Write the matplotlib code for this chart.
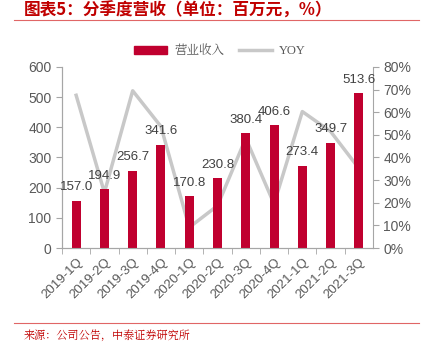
import numpy as np
import matplotlib
matplotlib.use('Agg')
import matplotlib.pyplot as plt
from matplotlib.lines import Line2D
from matplotlib.patches import Patch

plt.rcParams['font.family'] = ['Liberation Sans', 'Noto Sans CJK SC', 'DejaVu Sans']

# data
quarters = ['2019-1Q', '2019-2Q', '2019-3Q', '2019-4Q', '2020-1Q', '2020-2Q',
            '2020-3Q', '2020-4Q', '2021-1Q', '2021-2Q', '2021-3Q']
revenue = [157.0, 194.9, 256.7, 341.6, 170.8, 230.8, 380.4, 406.6, 273.4, 349.7, 513.6]
yoy = [67.5, 24.5, 69.5, 53.7, 9.1, 18.7, 48.5, 19.5, 60.3, 51.5, 35.2]

bar_color = '#C0002F'
line_color = '#C8C8C8'
axis_gray = '#A6A6A6'
text_gray = '#595959'

fig = plt.figure(figsize=(4.26, 3.44), dpi=100)
ax = fig.add_axes([62 / 426, 1 - 248 / 344, (373 - 62) / 426, (248 - 67) / 344])
ax2 = ax.twinx()

x = np.arange(len(quarters))
ax.bar(x, revenue, width=0.32, color=bar_color, zorder=2)
for xi, v in zip(x, revenue):
    ax.text(xi, v + 25, f'{v:.1f}', ha='center', va='bottom', fontsize=9.5, color='#404040', zorder=5)

ax2.plot(x, yoy, color=line_color, lw=2.5, zorder=3)
ax.set_zorder(ax2.get_zorder() + 1)
ax.patch.set_visible(False)

ax.set_xlim(-0.5, len(quarters) - 0.5)
ax.set_ylim(0, 600)
ax.set_yticks(range(0, 601, 100))
ax2.set_ylim(0, 80)
ax2.set_yticks(range(0, 81, 10))
ax2.set_yticklabels([f'{t}%' for t in range(0, 81, 10)])

ax.set_xticks(x - 0.5, minor=True)
ax.set_xticks(x)
ax.set_xticklabels(quarters, rotation=45, ha='right', rotation_mode='anchor')
ax.tick_params(axis='x', which='major', length=0, pad=6, labelsize=9.5, colors=text_gray)
ax.tick_params(axis='x', which='minor', length=4, color=axis_gray)
ax.tick_params(axis='y', length=4, color=axis_gray, labelsize=10, labelcolor=text_gray)
ax2.tick_params(axis='y', length=4, color=axis_gray, labelsize=10, labelcolor=text_gray)

for a in (ax, ax2):
    a.spines['top'].set_visible(False)
    for s in ('left', 'right', 'bottom'):
        a.spines[s].set_color(axis_gray)
ax.spines['right'].set_visible(False)

handles = [Patch(color=bar_color), Line2D([], [], color=line_color, lw=2.5)]
fig.legend(handles, ['营业收入', 'YOY'], loc='center', bbox_to_anchor=(220 / 426, 1 - 51 / 344),
           ncol=2, frameon=False, handlelength=2.6, handleheight=0.6, handletextpad=0.6,
           columnspacing=1.2, labelcolor=text_gray,
           prop={'family': ['Liberation Serif', 'Noto Serif CJK SC', 'Noto Sans CJK SC'], 'size': 9})

fig.text(24 / 426, 1 - 11 / 344, '图表5：分季度营收（单位：百万元，%）', color='#C00000',
         fontsize=12, fontweight='bold', va='center', ha='left', style='italic',
         family=['Noto Sans CJK SC', 'DejaVu Sans'])
fig.add_artist(Line2D([14 / 426, 419 / 426], [1 - 20 / 344, 1 - 20 / 344], color='#E06666', lw=0.8))
fig.add_artist(Line2D([14 / 426, 419 / 426], [1 - 323 / 344, 1 - 323 / 344], color='#E06666', lw=0.8))
fig.text(24 / 426, 1 - 336 / 344, '来源：公司公告，中泰证券研究所', color='#C00000',
         fontsize=8, va='center', ha='left', family=['Noto Serif CJK SC', 'Noto Sans CJK SC', 'DejaVu Sans'])

fig.savefig('out.png', dpi=100)
